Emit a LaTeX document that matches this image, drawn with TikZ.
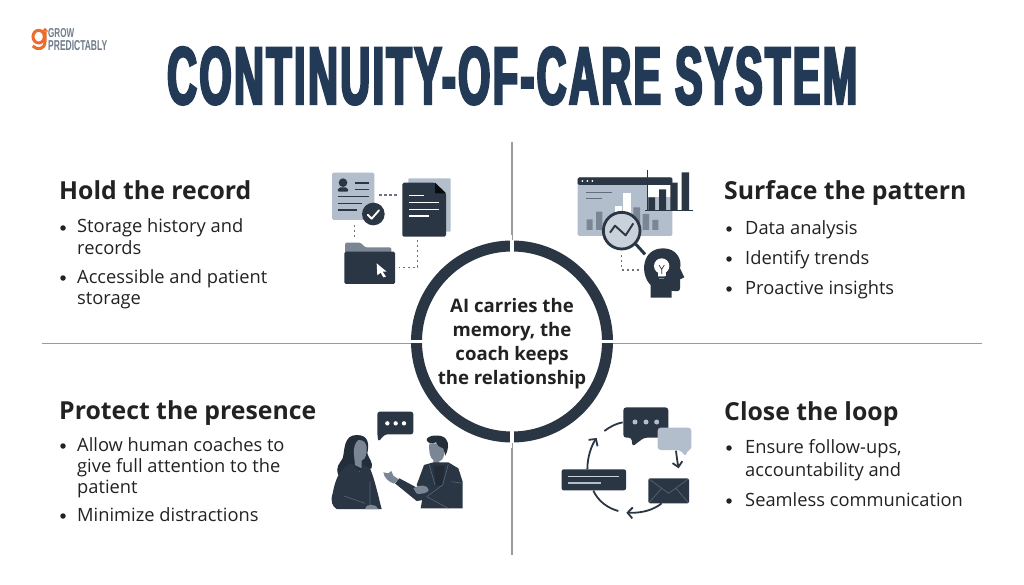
\documentclass[tikz,border=0pt]{standalone}
\usepackage{fontspec}
\setmainfont{Open Sans}
\newfontfamily\titlefont[FakeStretch=0.5,FakeBold=3,LetterSpace=3]{Liberation Sans Bold}
\newfontfamily\logofont{Liberation Sans}
\usetikzlibrary{arrows.meta}
\definecolor{navy}{HTML}{233A56}
\definecolor{ink}{HTML}{2B3644}
\definecolor{pale}{HTML}{B2BECB}
\definecolor{midg}{HTML}{7A8694}
\definecolor{rule}{HTML}{9A9A9A}
\definecolor{orangeg}{HTML}{EC6B2D}
\definecolor{logog}{HTML}{6F7C8C}
\definecolor{txt}{HTML}{222222}
\tikzset{
  x=1pt,y=-1pt,
  headtext/.style={anchor=base west,inner sep=0pt,font=\fontsize{24.8}{28}\selectfont\bfseries,text=txt},
  bodytext/.style={anchor=base west,inner sep=0pt,font=\fontsize{18.3}{21}\selectfont,text=txt},
  bulletdot/.style={circle,fill=txt,inner sep=0pt,minimum size=5.5pt},
  centertext/.style={anchor=base,inner sep=0pt,font=\fontsize{18.6}{24}\selectfont\bfseries,text=txt},
  divider/.style={draw=rule,line width=1.1pt},
  dots/.style={draw=ink!70!white,line width=1.2pt,dash pattern=on 2.5pt off 2.5pt},
  icon/.style={fill=ink},
}
\begin{document}
\begin{tikzpicture}
\useasboundingbox (0,0) rectangle (1024,585);
\fill[white] (0,0) rectangle (1024,585);
% logo
\begin{scope}[shift={(0,10)},scale=1/3]
\draw[orangeg,line width=3pt] (116,80) circle[x radius=17,y radius=19];
\draw[orangeg,line width=3pt] (135,65) -- (135,95) .. controls (135,118) and (112,122) .. (98,108);
\fill[orangeg] (125,65) -- (135,53) -- (145,65) -- cycle;
\end{scope}
\node[anchor=south west,inner sep=0pt,text=logog] (logoa) at (48,38) {\resizebox{26pt}{9pt}{\logofont\bfseries GROW}};
\node[anchor=south west,inner sep=0pt,text=logog] (logob) at (48,50.5) {\resizebox{59pt}{10pt}{\logofont\bfseries PREDICTABLY}};
% title
\node[anchor=south west,inner sep=0pt,text=navy] (title) at (167,105) {\resizebox{690pt}{57pt}{\titlefont CONTINUITY-OF-CARE SYSTEM}};
% dividers
\coordinate (vt) at (512,142); \coordinate (vb) at (512,555);
\coordinate (hl) at (42,343.5); \coordinate (hr) at (982,343.5);
\draw[divider] (vt) -- (vb);
\draw[divider] (hl) -- (hr);
% ring
\fill[white] (512,341.5) circle[radius=101];
\draw[ink,line width=11pt] (512,341.5) circle[radius=95.5];
\fill[white] (510.2,235) rectangle (513.8,448);
\fill[white] (405,339.9) rectangle (619,343.4);
\fill[rule] (511.5,235) rectangle (512.5,240);
\fill[rule] (511.5,443) rectangle (512.5,448);
% centre text
\node[centertext] (c1) at (512,312) {AI carries the};
\node[centertext] (c2) at (512,336) {memory, the};
\node[centertext] (c3) at (512,360) {coach keeps};
\node[centertext] (c4) at (512,384) {the relationship};
% Hold the record
\node[headtext] (h1) at (59,200) {Hold the record};
\node[bulletdot] (b11) at (63,228) {};
\node[bodytext] (t11) at (77,233) {Storage history and};
\node[bodytext] (t12) at (77,254) {records};
\node[bulletdot] (b12) at (63,278) {};
\node[bodytext] (t13) at (77,283) {Accessible and patient};
\node[bodytext] (t14) at (77,304) {storage};
% Surface the pattern
\node[headtext] (h2) at (724,200) {Surface the pattern};
\node[bulletdot] (b21) at (729,229) {};
\node[bodytext] (t21) at (745,234) {Data analysis};
\node[bulletdot] (b22) at (729,259) {};
\node[bodytext] (t22) at (745,264) {Identify trends};
\node[bulletdot] (b23) at (729,289) {};
\node[bodytext] (t23) at (745,294) {Proactive insights};
% Protect the presence
\node[headtext] (h3) at (59,419) {Protect the presence};
\node[bulletdot] (b31) at (63,446) {};
\node[bodytext] (t31) at (77,451) {Allow human coaches to};
\node[bodytext] (t32) at (77,472) {give full attention to the};
\node[bodytext] (t33) at (77,493) {patient};
\node[bulletdot] (b32) at (63,516) {};
\node[bodytext] (t34) at (77,521) {Minimize distractions};
% Close the loop
\node[headtext] (h4) at (724,420) {Close the loop};
\node[bulletdot] (b41) at (729,448) {};
\node[bodytext] (t41) at (745,453) {Ensure follow-ups,};
\node[bodytext] (t42) at (745,476) {accountability and};
\node[bulletdot] (b42) at (729,501) {};
\node[bodytext] (t43) at (745,506) {Seamless communication};
% icon 1: records
\begin{scope}[shift={(320,160)},scale=1/3]
\fill[pale,rounded corners=1.5pt] (36,38) rectangle (163,180);
\fill[ink] (69,68) circle[radius=13];
\fill[ink,rounded corners=2pt] (52,95) -- (55,82) -- (83,82) -- (86,95) -- cycle;
\draw[ink,line width=1.2pt] (106,69) -- (147,69) (106,89) -- (147,89) (53,110) -- (147,110) (53,130) -- (125,130) (53,150) -- (110,150);
\fill[ink] (160,162) circle[radius=34];
\draw[white,line width=1.8pt,line cap=round,line join=round] (143,164) -- (155,176) -- (177,151);
\fill[pale,rounded corners=1pt] (265,55) rectangle (392,215);
\fill[ink,rounded corners=1.5pt] (247,68) -- (345,68) -- (378,100) -- (378,230) -- (247,230) -- cycle;
\fill[black!80!ink] (345,68) -- (378,100) -- (345,100) -- cycle;
\draw[white,line width=1.2pt] (268,107) -- (312,107) (268,127) -- (356,127) (268,148) -- (356,148) (268,168) -- (328,168);
\draw[dots] (177,105) -- (235,105);
\draw[dots] (104,195) -- (104,235);
\draw[dots] (293,240) -- (293,322) -- (238,322);
\fill[midg,rounded corners=1.5pt] (75,285) -- (75,248) -- (122,248) -- (135,262) -- (214,262) -- (214,285) -- cycle;
\fill[ink,rounded corners=1.5pt] (73,275) rectangle (225,372);
\fill[white] (170,310) -- (200,335) -- (188,335) -- (198,350) -- (190,352) -- (182,338) -- (172,346) -- cycle;
\end{scope}
% icon 2: analytics
\begin{scope}[shift={(565,160)},scale=1/3]
\fill[pale,rounded corners=1.5pt] (38,52) rectangle (322,228);
\fill[ink,rounded corners=1.5pt] (38,52) rectangle (322,75);
\fill[white] (52,63) circle[radius=3] (67,63) circle[radius=3] (82,63) circle[radius=3];
\draw[midg!70!ink,line width=1.2pt] (63,98) -- (142,98);
\draw[midg!70!ink,line width=1.2pt] (63,115) -- (112,115);
\fill[white] (250,75) rectangle (322,110);
\fill[white] (175,100) rectangle (197,210);
\fill[white] (150,138) rectangle (172,210);
\fill[midg] (65,178) rectangle (83,210) (93,155) rectangle (112,210) (205,142) rectangle (225,210) (233,162) rectangle (252,210) (262,180) rectangle (280,210);
\fill[ink] (250,112) rectangle (270,150) (282,88) rectangle (303,150) (316,68) rectangle (338,150) (350,37) rectangle (372,150);
\draw[ink,line width=.8pt] (248,30) -- (248,150);
\draw[ink,line width=.8pt] (240,151) -- (383,151);
\fill[pale!70!white] (170,212) circle[radius=55];
\draw[ink,line width=1.9pt,line join=round] (135,218) -- (150,197) -- (182,226) -- (205,190);
\draw[ink,line width=2.8pt] (170,212) circle[radius=55];
\draw[ink,line width=3pt] (212,252) -- (240,283);
\draw[dots] (170,285) -- (170,330) -- (225,330);
\fill[ink] (257,413) -- (257,375) .. controls (225,345) and (228,265) .. (295,265) .. controls (335,265) and (352,300) .. (345,325) -- (358,352) -- (345,358) -- (345,385) .. controls (345,395) and (335,395) .. (320,392) -- (320,413) -- cycle;
\fill[white] (290,318) circle[radius=23];
\fill[white] (278,335) rectangle (303,348);
\draw[ink,line width=.7pt] (282,315) -- (290,328) -- (298,315) (290,328) -- (290,342);
\draw[midg,line width=1pt] (280,350) -- (300,350) (283,356) -- (297,356);
\end{scope}
% icon 3: conversation
\begin{scope}[shift={(320,400)},scale=1/3]
\fill[ink,rounded corners=2.5pt] (172,35) -- (280,35) -- (280,103) -- (195,103) -- (175,125) -- (172,103) -- cycle;
\fill[white] (202,70) circle[radius=6.5] (227,70) circle[radius=6.5] (252,70) circle[radius=6.5];
% woman
\fill[ink!85!black] (110,105) .. controls (70,105) and (75,150) .. (68,175) .. controls (60,190) and (45,200) .. (55,225) -- (155,205) .. controls (160,185) and (145,175) .. (142,160) .. controls (148,130) and (145,105) .. (110,105) -- cycle;
\fill[midg] (115,120) .. controls (130,120) and (142,125) .. (140,155) .. controls (138,175) and (130,180) .. (125,182) -- (125,205) -- (105,195) -- (102,165) .. controls (100,140) and (105,130) .. (115,120) -- cycle;
\fill[ink] (95,190) -- (118,215) -- (130,195) -- (150,205) .. controls (165,240) and (175,290) .. (185,327) -- (50,327) .. controls (38,320) and (30,305) .. (38,280) .. controls (45,245) and (55,205) .. (95,190) -- cycle;
\draw[midg!60!ink,line width=.6pt] (72,288) -- (135,310) (150,245) -- (150,320);
\fill[midg] (135,327) .. controls (135,310) and (170,310) .. (175,327) -- cycle;
\end{scope}
% man
\begin{scope}[shift={(380,425)},scale=1/3]
\fill[midg] (148,55) -- (192,55) -- (192,90) .. controls (190,105) and (180,108) .. (178,108) -- (180,125) -- (160,125) -- (160,105) .. controls (150,100) and (146,80) .. (148,55) -- cycle;
\fill[ink!85!black] (140,45) .. controls (140,30) and (185,25) .. (198,42) .. controls (208,55) and (205,75) .. (196,92) -- (190,70) .. controls (178,65) and (170,62) .. (168,52) .. controls (155,58) and (143,55) .. (140,45) -- cycle;
\fill[ink] (132,120) -- (160,112) -- (205,112) -- (235,130) -- (248,170) -- (248,250) -- (122,250) -- (130,205) -- (110,180) -- cycle;
\fill[ink!80!black] (160,122) -- (195,122) -- (186,180) -- (168,180) -- cycle;
\draw[midg!60!ink,line width=.6pt] (148,120) -- (165,180) (205,118) -- (188,180) -- (140,215) (140,215) -- (205,250) (215,170) -- (248,175);
\fill[ink] (45,175) -- (58,160) -- (105,185) -- (140,205) -- (130,225) -- (110,228) -- cycle;
\fill[midg] (10,142) -- (25,145) -- (34,138) -- (40,152) -- (55,162) -- (42,176) .. controls (25,170) and (12,158) .. (10,142) -- cycle;
\fill[midg] (100,190) .. controls (115,178) and (145,178) .. (146,195) .. controls (146,205) and (120,208) .. (110,206) -- cycle;
\end{scope}
% icon 4: loop
\begin{scope}[shift={(550,395)},scale=1/3]
\fill[ink,rounded corners=3pt] (220,37) -- (355,37) -- (355,128) -- (282,128) -- (247,155) -- (245,128) -- (220,128) -- cycle;
\fill[pale] (255,81) circle[radius=7.5] (288,81) circle[radius=7.5] (320,81) circle[radius=7.5];
\fill[pale,rounded corners=3pt] (323,98) -- (424,98) -- (424,165) -- (412,165) -- (408,185) -- (390,165) -- (323,165) -- cycle;
\draw[ink,line width=1.8pt,-{Straight Barb[length=5pt,width=10pt]}] (378,167) .. controls (380,185) and (382,200) .. (386,220);
\fill[ink,rounded corners=1.5pt] (295,250) rectangle (417,325);
\draw[midg!50!ink,line width=.8pt] (297,252) -- (356,295) -- (415,252) (297,323) -- (335,280) (415,323) -- (378,280);
\draw[ink,line width=1.8pt,-{Straight Barb[length=5pt,width=11pt]}] (335,325) .. controls (310,345) and (275,355) .. (229,353);
\fill[ink,rounded corners=2pt] (35,223) rectangle (228,286);
\draw[pale!70!white,line width=1.4pt] (55,244) -- (208,244);
\draw[pale,line width=1.4pt] (55,264) -- (152,264);
\draw[ink,line width=1.8pt] (130,287) .. controls (145,320) and (175,340) .. (205,348);
\draw[ink,line width=1.8pt,-{Straight Barb[length=5pt,width=11pt]}] (112,223) .. controls (112,185) and (125,150) .. (140,129);
\draw[ink,line width=1.8pt] (163,108) .. controls (180,95) and (200,85) .. (218,82);
\end{scope}
\end{tikzpicture}
\end{document}
